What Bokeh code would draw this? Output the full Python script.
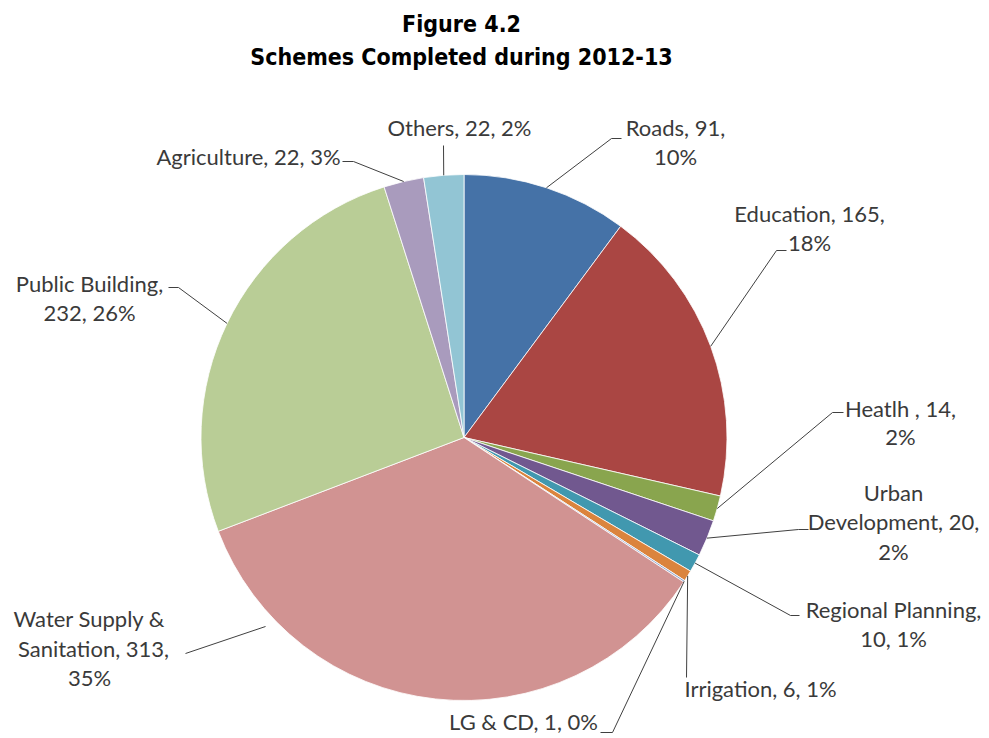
import math
from bokeh.plotting import figure
from bokeh.models import Range1d, ColumnDataSource
from bokeh.core.properties import value
from bokeh.embed import file_html
from bokeh.resources import INLINE

# ---------------- data ----------------
categories = ["Roads", "Education", "Heatlh ", "Urban Development", "Regional Planning",
              "Irrigation", "LG & CD", "Water Supply & Sanitation", "Public Building",
              "Agriculture", "Others"]
values = [91, 165, 14, 20, 10, 6, 1, 313, 232, 22, 22]
percent_labels = ["10%", "18%", "2%", "2%", "1%", "1%", "0%", "35%", "26%", "3%", "2%"]

title_lines = ["Figure 4.2", "Schemes Completed during 2012-13"]

# ---------------- styles / layout ----------------
colors = ["#4572A7", "#AA4643", "#89A54E", "#71588F", "#4198AF", "#DB843D",
          "#93A9CF", "#D19392", "#B9CD96", "#A99BBD", "#92C5D4"]

W, H = 985, 736
CX, CY, R = 463.5, 437.0, 263.0   # screen px

# label lines for each category (how the label text wraps) and their centre positions
label_lines = [
    (["Roads, {v},", "{p}"], [(675, 127), (675, 156)]),
    (["Education, {v},", "{p}"], [(809, 213), (809, 242)]),
    (["Heatlh , {v},", "{p}"], [(900, 408), (900, 436)]),
    (["Urban", "Development, {v},", "{p}"], [(893, 492), (893, 521), (893, 551)]),
    (["Regional Planning,", "{v}, {p}"], [(893, 609), (893, 638)]),
    (["Irrigation, {v}, {p}"], [(760, 688)]),
    (["LG & CD, {v}, {p}"], [(523, 721)]),
    (["Water Supply &", "Sanitation, {v},", "{p}"], [(89, 618), (93, 648), (89, 677)]),
    (["Public Building,", "{v}, {p}"], [(89, 283), (89, 312)]),
    (["Agriculture, {v}, {p}"], [(248, 156)]),
    (["Others, {v}, {p}"], [(459, 127)]),
]
# leader elbow points (screen px) after the slice anchor
leader_tail = [
    [(611, 138), (621, 138)],
    [(776, 250), (786, 250)],
    [(832, 412), (843, 412)],
    [(798, 529), (808, 529)],
    [(790, 615), (799, 615)],
    [(686, 677)],
    [(612, 732), (600, 732)],
    [(185, 653)],
    [(178, 287), (168, 287)],
    [(353, 161), (342, 161)],
    [(443, 145)],
]
# anchor overrides: (angle_deg from top clockwise, radius factor)
anchor_override = {7: (226.4, 1.042)}


def X(sx):
    return sx


def Y(sy):
    return H - sy


p = figure(width=W, height=H, output_backend="svg", toolbar_location=None,
           x_range=Range1d(0, W), y_range=Range1d(0, H),
           min_border=0, outline_line_color=None)
p.axis.visible = False
p.grid.visible = False
p.background_fill_color = "white"
p.border_fill_color = "white"

total = float(sum(values))
starts, ends, mids = [], [], []
cum = 0.0
for v in values:
    a0 = cum / total * 2 * math.pi
    cum += v
    a1 = cum / total * 2 * math.pi
    starts.append(math.pi / 2 - a0)
    ends.append(math.pi / 2 - a1)
    mids.append((a0 + a1) / 2)

src = ColumnDataSource(dict(start=starts, end=ends, color=colors, cat=categories))
p.wedge(x=X(CX), y=Y(CY), radius=R, start_angle="start", end_angle="end",
        direction="clock", fill_color="color", line_color="white", line_width=0.8,
        source=src)

# leaders
for i, tail in enumerate(leader_tail):
    if i in anchor_override:
        ang, rf = anchor_override[i]
        ang = math.radians(ang)
    else:
        ang, rf = mids[i], 1.0
    sx = CX + R * rf * math.sin(ang)
    sy = CY - R * rf * math.cos(ang)
    xs = [X(sx)] + [X(t[0]) for t in tail]
    ys = [Y(sy)] + [Y(t[1]) for t in tail]
    p.line(xs, ys, line_color="#404040", line_width=1)

# labels
lx, ly, lt = [], [], []
for i, (lines, pos) in enumerate(label_lines):
    for ln, (px, py) in zip(lines, pos):
        lt.append(ln.format(v=values[i], p=percent_labels[i]))
        lx.append(X(px))
        ly.append(Y(py))
p.text(x=lx, y=ly, text=lt, text_align="center", text_baseline="middle",
       text_font=value("Lato"), text_font_size="22px", text_color="#3a3a3a")

# title
p.text(x=[X(461), X(461)], y=[Y(23), Y(56)], text=title_lines,
       text_align="center", text_baseline="middle",
       text_font=value("'Liberation Sans Narrow', 'DejaVu Sans Condensed', Roboto"),
       text_font_style="bold", text_font_size="23px", text_color="black")

open("out.html", "w").write(file_html(p, INLINE))
